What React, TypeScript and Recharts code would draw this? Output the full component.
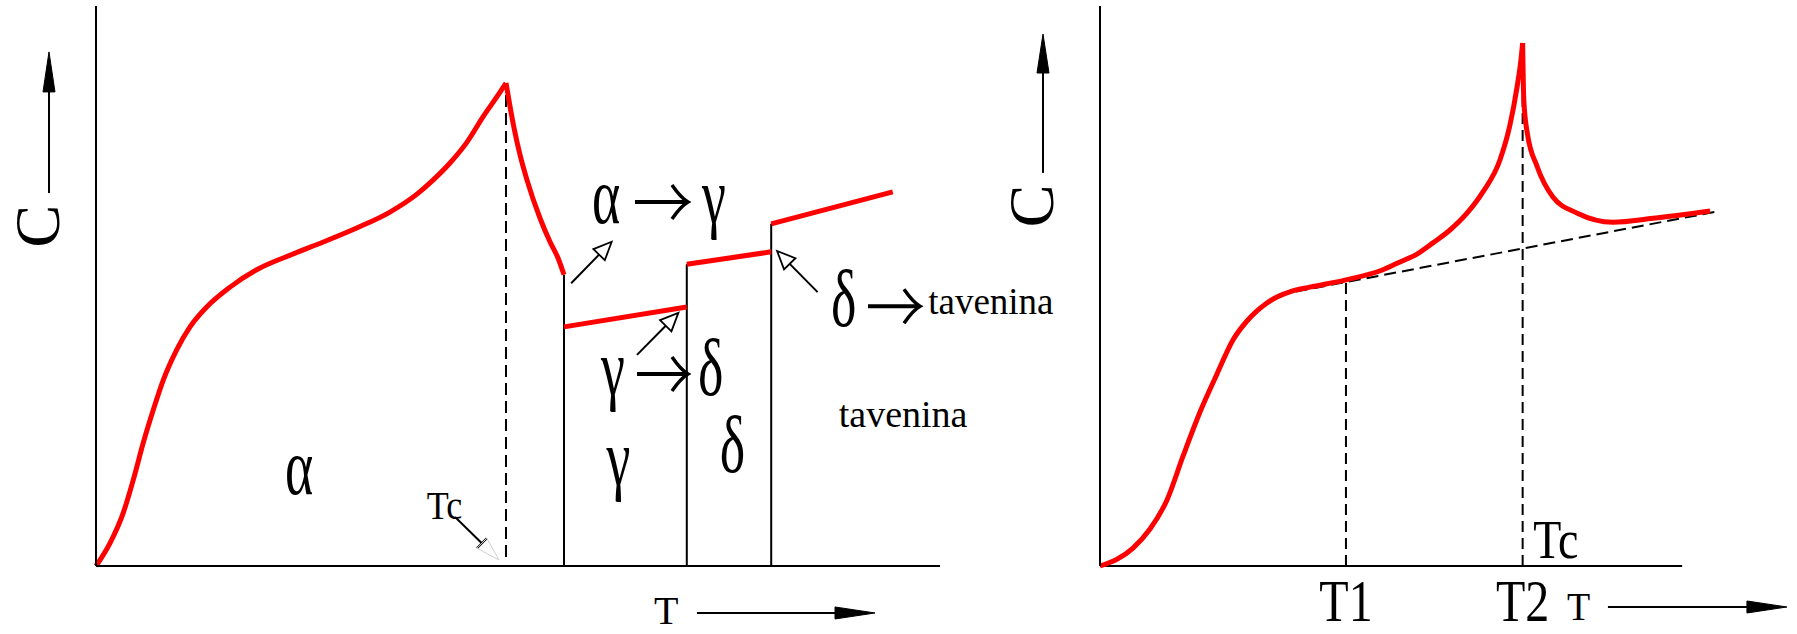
import { ComposedChart, Line, XAxis, YAxis, ReferenceLine, ReferenceDot } from 'recharts';

const SERIF = '"Liberation Serif", "Times New Roman", serif';
const RED = '#ff0000';

// Left panel: heat capacity of iron through its phases (arbitrary units)
const alphaRiseT = [0, 1.66, 3.23, 4.42, 5.6, 6.79, 7.97, 9.56, 11.14, 13.12, 15.88, 19.04, 22.99, 26.93, 30.89, 34.83, 38.03, 39.93, 41.94, 43.96, 45.85, 47.87, 48.58];
const alphaRiseC = [0, 4.1, 9.5, 15.4, 22.0, 27.9, 33.2, 38.6, 42.7, 46.25, 49.8, 52.9, 55.5, 57.86, 60.36, 63.2, 66.4, 68.9, 71.96, 75.7, 80.2, 84.6, 86.25];
const alphaFallT = [48.58, 49.05, 49.53, 50.24, 51.07, 52.61, 53.79, 54.74, 55.45];
const alphaFallC = [86.25, 82.1, 78.2, 73.4, 68.9, 62.1, 57.9, 55.0, 52.0];
const gammaT = [55.45, 70];
const gammaC = [42.7, 46.25];
const deltaT = [70, 80];
const deltaC = [53.9, 56.1];
const liquidT = [80, 94.4];
const liquidC = [61.1, 66.8];
const curieT = 48.58;

// Right panel: order-disorder transition with lambda peak at T2
const orderRiseT = [0, 5.67, 8.59, 11.51, 14.26, 17.18, 20.1, 22.84, 25.25, 26.97, 28.68, 30.4, 32.98, 36.07, 42.25, 48.61, 51.53, 54.45, 57.2, 60.12, 63.04, 65.78, 68.7, 70.42, 71.62, 72.31, 72.6];
const orderRiseC = [0, 3.2, 6.6, 11.8, 19.6, 27.5, 34.3, 40.36, 43.75, 45.54, 46.96, 48.04, 49.1, 49.8, 51.1, 52.9, 54.3, 55.7, 57.7, 60.0, 63.0, 66.8, 72.5, 78.75, 85.4, 90.4, 93.4];
const orderFallT = [72.6, 72.8, 73.4, 75.1, 77.8, 82.0, 88.1, 95.0, 104.8];
const orderFallC = [93.4, 83.2, 77.3, 71.3, 65.9, 63.0, 61.4, 62.1, 63.4];
const baselineT = [30.6, 106.5];
const baselineC = [48.4, 63.4];
const orderTicks = [42.25, 72.6];
const orderTickLabels = ['T1', 'T2'];

const rows = (t: number[], c: number[]) => t.map((v, i) => ({ t: v, c: c[i] }));

const glyph =
  (text: string, size: number, stretch = 1, rotate = 0, anchor: 'start' | 'middle' = 'start') =>
  (p: any) => (
    <text
      transform={`translate(${p.cx},${p.cy}) rotate(${rotate}) scale(1,${stretch})`}
      fontFamily={SERIF}
      fontSize={size}
      textAnchor={anchor}
      fill="#000"
    >
      {text}
    </text>
  );

// bold "→" drawn as a path, anchored at the left end of the shaft
const textArrow = (len: number) => (p: any) => {
  const { cx, cy } = p;
  const tip = cx + len;
  return (
    <g fill="none" stroke="#000">
      <line x1={cx} y1={cy} x2={tip - 3} y2={cy} strokeWidth={4} />
      <path
        d={`M${tip - 16},${cy - 17} Q${tip - 7},${cy - 4} ${tip},${cy} Q${tip - 7},${cy + 4} ${tip - 16},${cy + 17}`}
        strokeWidth={3.5}
      />
    </g>
  );
};

const arrow = (head: number, half: number, hollow: boolean) => (p: any) => {
  const { x1, y1, x2, y2 } = p;
  const a = Math.atan2(y2 - y1, x2 - x1);
  const ux = Math.cos(a);
  const uy = Math.sin(a);
  const bx = x2 - head * ux;
  const by = y2 - head * uy;
  const pts = `${x2},${y2} ${bx - half * uy},${by + half * ux} ${bx + half * uy},${by - half * ux}`;
  return (
    <g>
      <line x1={x1} y1={y1} x2={bx} y2={by} stroke="#000" strokeWidth={2} />
      <polygon points={pts} fill={hollow ? '#fff' : '#000'} stroke="#000" strokeWidth={hollow ? 1.8 : 1} />
    </g>
  );
};

// leader from the Tc note with a tee and a faint open head
const tcLeader = (p: any) => {
  const { x1, y1, x2, y2 } = p;
  const a = Math.atan2(y2 - y1, x2 - x1);
  const ux = Math.cos(a);
  const uy = Math.sin(a);
  const tx = x2 - 24 * ux;
  const ty = y2 - 24 * uy;
  return (
    <g>
      <line x1={x1} y1={y1} x2={tx} y2={ty} stroke="#000" strokeWidth={2} />
      <line x1={tx - 7 * uy} y1={ty + 7 * ux} x2={tx + 7 * uy} y2={ty - 7 * ux} stroke="#000" strokeWidth={2} />
      <polygon
        points={`${x2},${y2} ${tx - 7 * uy},${ty + 7 * ux} ${tx + 7 * uy},${ty - 7 * ux}`}
        fill="none"
        stroke="#cfcfcf"
        strokeWidth={1}
      />
    </g>
  );
};

const OrderTick = (p: any) => (
  <text
    transform={`translate(${p.x},${p.y + 47}) scale(1,1.25)`}
    textAnchor="middle"
    fontFamily={SERIF}
    fontSize={48}
    fill="#000"
  >
    {orderTickLabels[orderTicks.indexOf(p.payload.value)]}
  </text>
);

const redLine = (key: string, data: { t: number; c: number }[]) => (
  <Line
    key={key}
    data={data}
    dataKey="c"
    type="monotone"
    stroke={RED}
    strokeWidth={5}
    dot={false}
    activeDot={false}
    isAnimationActive={false}
  />
);

const axisLine = { stroke: '#000', strokeWidth: 2 };
const GREEK = 54;
const GREEK_STRETCH = 1.5;

const IronChart = () => {
  const alphaEnd = alphaFallC[alphaFallC.length - 1];
  return (
    <ComposedChart width={1100} height={634} margin={{ top: 6, right: 160, left: 95, bottom: 0 }}>
      <XAxis dataKey="t" type="number" domain={[0, 100]} height={68} tick={false} tickLine={false} axisLine={axisLine} />
      <YAxis type="number" domain={[0, 100]} width={1} tick={false} tickLine={false} axisLine={axisLine} />

      <ReferenceLine segment={[{ x: curieT, y: 1.6 }, { x: curieT, y: alphaRiseC[alphaRiseC.length - 1] }]} stroke="#000" strokeWidth={2} strokeDasharray="12 6" ifOverflow="visible" />
      <ReferenceLine segment={[{ x: gammaT[0], y: 0 }, { x: gammaT[0], y: alphaEnd }]} stroke="#000" strokeWidth={2} ifOverflow="visible" />
      <ReferenceLine segment={[{ x: deltaT[0], y: 0 }, { x: deltaT[0], y: deltaC[0] }]} stroke="#000" strokeWidth={2} ifOverflow="visible" />
      <ReferenceLine segment={[{ x: liquidT[0], y: 0 }, { x: liquidT[0], y: liquidC[0] }]} stroke="#000" strokeWidth={2} ifOverflow="visible" />

      {redLine('alphaRise', rows(alphaRiseT, alphaRiseC))}
      {redLine('alphaFall', rows(alphaFallT, alphaFallC))}
      {redLine('gamma', rows(gammaT, gammaC))}
      {redLine('delta', rows(deltaT, deltaC))}
      {redLine('liquid', rows(liquidT, liquidC))}

      {/* axis titles */}
      <ReferenceLine segment={[{ x: -5.57, y: 66.6 }, { x: -5.57, y: 91.8 }]} shape={arrow(40, 6, false)} ifOverflow="visible" />
      <ReferenceDot x={-4.38} y={60.7} ifOverflow="visible" shape={glyph('C', 64, 1, -90, 'middle')} />
      <ReferenceDot x={66.1} y={-10.36} ifOverflow="visible" shape={glyph('T', 40)} />
      <ReferenceLine segment={[{ x: 71.2, y: -8.39 }, { x: 92.3, y: -8.39 }]} shape={arrow(40, 6, false)} ifOverflow="visible" />

      {/* α → γ */}
      <ReferenceDot x={58.77} y={61.25} ifOverflow="visible" shape={glyph('α', GREEK, GREEK_STRETCH)} />
      <ReferenceDot x={63.86} y={65.0} ifOverflow="visible" shape={textArrow(53)} />
      <ReferenceDot x={71.8} y={61.25} ifOverflow="visible" shape={glyph('γ', GREEK, GREEK_STRETCH)} />
      <ReferenceLine segment={[{ x: 56.3, y: 50.5 }, { x: 61.1, y: 57.9 }]} shape={arrow(18, 8, true)} ifOverflow="visible" />

      {/* γ → δ */}
      <ReferenceDot x={59.83} y={30.5} ifOverflow="visible" shape={glyph('γ', GREEK, GREEK_STRETCH)} />
      <ReferenceDot x={64.1} y={34.3} ifOverflow="visible" shape={textArrow(51)} />
      <ReferenceDot x={71.33} y={30.5} ifOverflow="visible" shape={glyph('δ', GREEK, GREEK_STRETCH)} />
      <ReferenceLine segment={[{ x: 64.1, y: 37.7 }, { x: 69.0, y: 45.2 }]} shape={arrow(18, 8, true)} ifOverflow="visible" />

      {/* δ → tavenina */}
      <ReferenceDot x={87.1} y={42.9} ifOverflow="visible" shape={glyph('δ', GREEK, GREEK_STRETCH)} />
      <ReferenceDot x={91.47} y={46.4} ifOverflow="visible" shape={textArrow(52)} />
      <ReferenceDot x={98.6} y={45.0} ifOverflow="visible" shape={glyph('tavenina', 37)} />
      <ReferenceLine segment={[{ x: 85.5, y: 48.9 }, { x: 80.7, y: 56.25 }]} shape={arrow(18, 8, true)} ifOverflow="visible" />

      {/* phase regions */}
      <ReferenceDot x={22.4} y={12.86} ifOverflow="visible" shape={glyph('α', GREEK, GREEK_STRETCH)} />
      <ReferenceDot x={60.5} y={14.5} ifOverflow="visible" shape={glyph('γ', GREEK, GREEK_STRETCH)} />
      <ReferenceDot x={73.9} y={16.8} ifOverflow="visible" shape={glyph('δ', GREEK, GREEK_STRETCH)} />
      <ReferenceDot x={88.0} y={24.8} ifOverflow="visible" shape={glyph('tavenina', 38)} />

      <ReferenceDot x={39.2} y={8.4} ifOverflow="visible" shape={glyph('Tc', 36, 1.13)} />
      <ReferenceLine segment={[{ x: 42.54, y: 8.75 }, { x: 47.75, y: 1.07 }]} shape={tcLeader} ifOverflow="visible" />
    </ComposedChart>
  );
};

const OrderChart = () => (
  <ComposedChart width={837} height={634} margin={{ top: 6, right: 77, left: 139, bottom: 0 }}>
    <XAxis
      dataKey="t"
      type="number"
      domain={[0, 106.5]}
      height={68}
      ticks={orderTicks}
      interval={0}
      tick={<OrderTick />}
      tickLine={false}
      axisLine={false}
    />
    <YAxis type="number" domain={[0, 100]} width={1} tick={false} tickLine={false} axisLine={axisLine} />

    <ReferenceLine segment={[{ x: 0, y: 0 }, { x: 100, y: 0 }]} stroke="#000" strokeWidth={2} ifOverflow="visible" />
    <ReferenceLine segment={[{ x: orderTicks[0], y: 0 }, { x: orderTicks[0], y: 51 }]} stroke="#000" strokeWidth={2} strokeDasharray="11 6" ifOverflow="visible" />
    <ReferenceLine segment={[{ x: orderTicks[1], y: 0 }, { x: orderTicks[1], y: 85 }]} stroke="#000" strokeWidth={2} strokeDasharray="11 6" ifOverflow="visible" />

    <Line
      data={rows(baselineT, baselineC)}
      dataKey="c"
      type="linear"
      stroke="#000"
      strokeWidth={2}
      strokeDasharray="12 6"
      dot={false}
      activeDot={false}
      isAnimationActive={false}
    />
    {redLine('orderRise', rows(orderRiseT, orderRiseC))}
    {redLine('orderFall', rows(orderFallT, orderFallC))}

    <ReferenceLine segment={[{ x: -9.79, y: 70.2 }, { x: -9.79, y: 95.0 }]} shape={arrow(39, 6, false)} ifOverflow="visible" />
    <ReferenceDot x={-8.07} y={64.3} ifOverflow="visible" shape={glyph('C', 64, 1, -90, 'middle')} />
    <ReferenceDot x={80.2} y={-9.64} ifOverflow="visible" shape={glyph('T', 38, 1.08)} />
    <ReferenceLine segment={[{ x: 87.25, y: -7.32 }, { x: 118.0, y: -7.32 }]} shape={arrow(40, 6, false)} ifOverflow="visible" />
    <ReferenceDot x={74.4} y={1.43} ifOverflow="visible" shape={glyph('Tc', 46, 1.18)} />
  </ComposedChart>
);

export default function App() {
  return (
    <div style={{ position: 'relative', width: 1797, height: 634, background: '#fff', overflow: 'hidden' }}>
      <style>{'body{margin:0}'}</style>
      <div style={{ position: 'absolute', left: 0, top: 0 }}>
        <IronChart />
      </div>
      <div style={{ position: 'absolute', left: 960, top: 0 }}>
        <OrderChart />
      </div>
    </div>
  );
}
